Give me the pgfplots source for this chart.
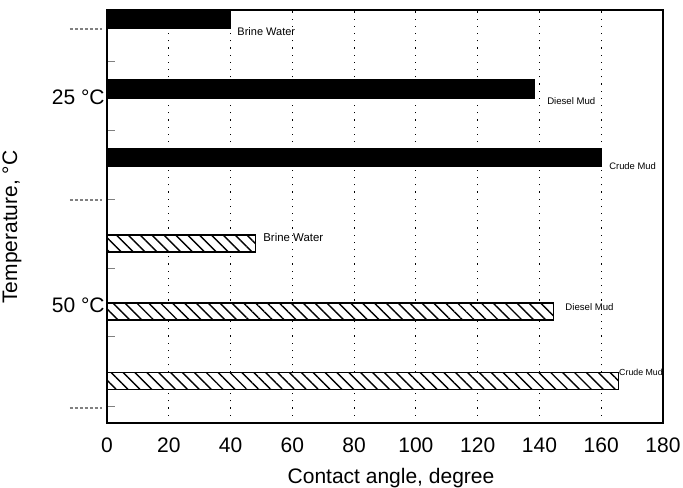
\documentclass[border=0pt]{standalone}
\usepackage{fontspec}
\setmainfont{Liberation Sans}
\usepackage{pgfplots}
\pgfplotsset{compat=1.18}
\usetikzlibrary{patterns.meta}
\begin{document}
\begin{tikzpicture}
\begin{axis}[
  at={(0,0)}, anchor=south west,
  scale only axis, width=278pt, height=206.5pt,
  xmin=0, xmax=180, ymin=0, ymax=6,
  clip=false,
  axis line style={line width=0.7pt},
  /pgf/number format/assume math mode=true,
  font=\fontsize{10.5}{12}\selectfont,
  xtick={0,20,...,180},
  xmajorgrids,
  grid style={line width=0.6pt, dash pattern=on 0.6pt off 3pt, black},
  xticklabel style={inner sep=0pt, anchor=north, yshift=-7pt},
  major tick length=0pt,
  tick align=inside,
  ytick pos=left,
  ytick={4.736,1.714},
  yticklabels={25 °C,50 °C},
  yticklabel style={inner sep=1pt},
  minor ytick={5.245,4.243,3.241,2.238,1.250,0.247},
  minor tick length=4pt,
  minor tick style={line width=0.5pt},
  extra y ticks={5.724,3.241,0.218},
  extra y tick labels={},
  extra y tick style={tick align=outside, major tick length=16pt,
     tick style={line width=0.6pt, dash pattern=on 1.7pt off 0.8pt, xshift=-2.5pt}},
  xlabel={Contact angle, degree},
  xlabel style={at={(axis description cs:0.5108,-0.109)}, anchor=north, inner sep=0pt},
  ylabel={Temperature, °C},
  ylabel style={at={(axis description cs:-0.153,0.4746)}, anchor=south, inner sep=0pt},
]
\addplot[xbar, bar shift=0pt, bar width=0.265, fill=black, draw=black, line width=0.5pt]
  coordinates {(40,5.862) (138.5,4.853) (160,3.857)};
\addplot[xbar, bar shift=0pt, bar width=0.25, fill=white, draw=black, line width=0.7pt,
  postaction={pattern={Lines[angle=-45,distance=4.2pt,line width=0.7pt]}}]
  coordinates {(48,2.608) (144.5,1.620) (165.5,0.610)};
\node[anchor=west, inner sep=0pt, font=\fontsize{5.5}{6}\selectfont] at (axis cs:42.1,5.68) {Brine Water};
\node[anchor=west, inner sep=0pt, font=\fontsize{4.8}{6}\selectfont] at (axis cs:142.4,4.68) {Diesel Mud};
\node[anchor=west, inner sep=0pt, font=\fontsize{4.7}{6}\selectfont] at (axis cs:162.5,3.73) {Crude Mud};
\node[anchor=west, inner sep=0pt, font=\fontsize{5.7}{6}\selectfont] at (axis cs:50.5,2.70) {Brine Water};
\node[anchor=west, inner sep=0pt, font=\fontsize{4.8}{6}\selectfont] at (axis cs:148.3,1.685) {Diesel Mud};
\node[anchor=west, inner sep=0pt, font=\fontsize{4.4}{6}\selectfont] at (axis cs:165.7,0.74) {Crude Mud};
\end{axis}
\pgfresetboundingbox
\path (-53.5pt,-32pt) rectangle (288pt,211.5pt);
\end{tikzpicture}
\end{document}
